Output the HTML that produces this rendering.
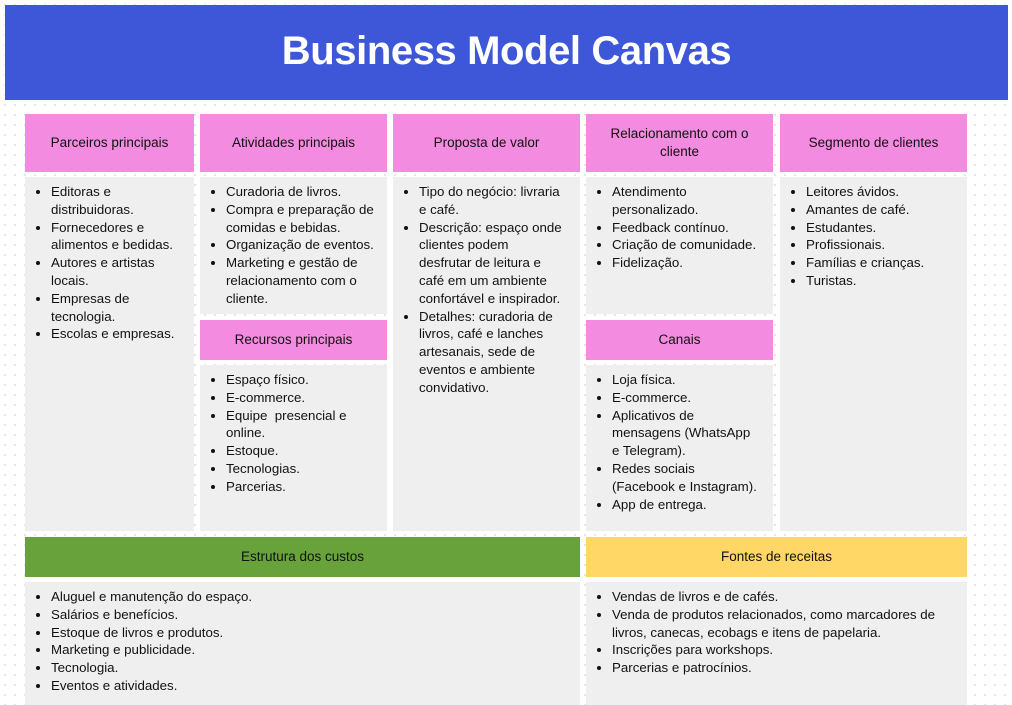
<!DOCTYPE html>
<html><head><meta charset="utf-8"><style>
*{margin:0;padding:0;box-sizing:border-box}
body{width:1012px;height:705px;background:#fff;background-image:radial-gradient(#e6e6e6 1.2px,transparent 1.3px);background-size:10px 10px;position:relative;overflow:hidden;font-family:"Liberation Sans",sans-serif;color:#111}
.hd{position:absolute;left:5px;top:5px;width:1003px;height:95px;background:#3d57d8;color:#fff;font-weight:bold;font-size:40px;text-align:center;line-height:92px;letter-spacing:-0.4px}
.b{position:absolute;display:flex;align-items:center;justify-content:center;text-align:center;font-size:13.5px;line-height:18px}
.p{background:#f38ce0}
.g{position:absolute;background:#efefef;font-size:13.3px;line-height:17.8px}
.g ul{margin:6px 0 0 26px}
.nw li{white-space:nowrap}
</style></head><body>
<div class="hd">Business Model Canvas</div>

<div class="b p" style="left:25px;top:114px;width:169px;height:58px">Parceiros principais</div>
<div class="b p" style="left:200px;top:114px;width:187px;height:58px">Atividades principais</div>
<div class="b p" style="left:393px;top:114px;width:187px;height:58px">Proposta de valor</div>
<div class="b p" style="left:586px;top:114px;width:187px;height:58px;padding:0 14px">Relacionamento com o cliente</div>
<div class="b p" style="left:780px;top:114px;width:187px;height:58px">Segmento de clientes</div>

<div class="g" style="left:25px;top:177px;width:169px;height:354px"><ul>
<li>Editoras e distribuidoras.</li><li>Fornecedores e alimentos e bedidas.</li><li>Autores e artistas locais.</li><li>Empresas de tecnologia.</li><li>Escolas e empresas.</li></ul></div>

<div class="g" style="left:200px;top:177px;width:187px;height:137px"><ul>
<li>Curadoria de livros.</li><li>Compra e preparação de comidas e bebidas.</li><li>Organização de eventos.</li><li>Marketing e gestão de relacionamento com o cliente.</li></ul></div>
<div class="b p" style="left:200px;top:320px;width:187px;height:40px">Recursos principais</div>
<div class="g" style="left:200px;top:365px;width:187px;height:166px"><ul>
<li>Espaço físico.</li><li>E-commerce.</li><li>Equipe &nbsp;presencial e online.</li><li>Estoque.</li><li>Tecnologias.</li><li>Parcerias.</li></ul></div>

<div class="g" style="left:393px;top:177px;width:187px;height:354px"><ul class="nw">
<li>Tipo do negócio: livraria<br>e café.</li><li>Descrição: espaço onde<br>clientes podem<br>desfrutar de leitura e<br>café em um ambiente<br>confortável e inspirador.</li><li>Detalhes: curadoria de<br>livros, café e lanches<br>artesanais, sede de<br>eventos e ambiente<br>convidativo.</li></ul></div>

<div class="g" style="left:586px;top:177px;width:187px;height:137px"><ul>
<li>Atendimento personalizado.</li><li>Feedback contínuo.</li><li>Criação de comunidade.</li><li>Fidelização.</li></ul></div>
<div class="b p" style="left:586px;top:320px;width:187px;height:40px">Canais</div>
<div class="g" style="left:586px;top:365px;width:187px;height:166px"><ul class="nw">
<li>Loja física.</li><li>E-commerce.</li><li>Aplicativos de<br>mensagens (WhatsApp<br>e Telegram).</li><li>Redes sociais<br>(Facebook e Instagram).</li><li>App de entrega.</li></ul></div>

<div class="g" style="left:780px;top:177px;width:187px;height:354px"><ul>
<li>Leitores ávidos.</li><li>Amantes de café.</li><li>Estudantes.</li><li>Profissionais.</li><li>Famílias e crianças.</li><li>Turistas.</li></ul></div>

<div class="b" style="left:25px;top:537px;width:555px;height:40px;background:#67a23a">Estrutura dos custos</div>
<div class="b" style="left:586px;top:537px;width:381px;height:40px;background:#ffd766">Fontes de receitas</div>

<div class="g" style="left:25px;top:582px;width:555px;height:123px"><ul>
<li>Aluguel e manutenção do espaço.</li><li>Salários e benefícios.</li><li>Estoque de livros e produtos.</li><li>Marketing e publicidade.</li><li>Tecnologia.</li><li>Eventos e atividades.</li></ul></div>
<div class="g" style="left:586px;top:582px;width:381px;height:123px"><ul class="nw">
<li>Vendas de livros e de cafés.</li><li>Venda de produtos relacionados, como marcadores de<br>livros, canecas, ecobags e itens de papelaria.</li><li>Inscrições para workshops.</li><li>Parcerias e patrocínios.</li></ul></div>
</body></html>
